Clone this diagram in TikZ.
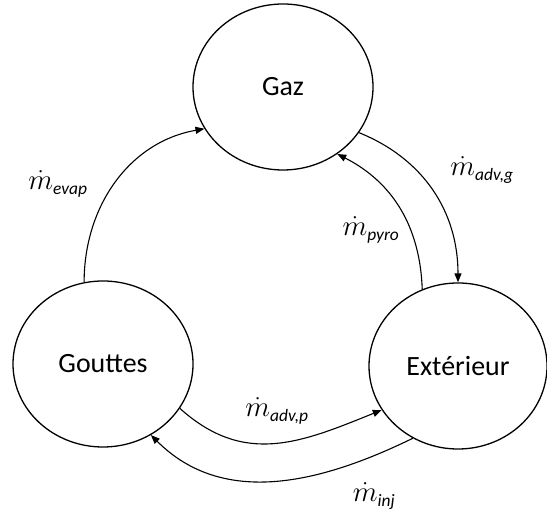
\RequirePackage{fix-cm}
\documentclass[tikz,border=0pt]{standalone}
\usepackage{amsmath}
\usepackage{fontspec}
\setmainfont{Carlito}
\usepackage{tikz}
\usetikzlibrary{positioning,arrows.meta,shapes.geometric}

% mass flow label
\newcommand{\debit}[1]{$\dot{m}_{\mbox{\fontsize{17.5}{20}\selectfont\itshape #1}}$}

\begin{document}
\begin{tikzpicture}[
  x=1bp, y=1bp,
  font=\fontsize{28}{33}\selectfont,
  >={Triangle[length=9bp,width=7bp]},
  zone/.style={draw, ellipse, line width=1.3bp, minimum width=180bp,
               minimum height=166bp, inner sep=0pt},
  flux/.style={line width=1.1bp, ->},
  lbl/.style={inner sep=1pt, font=\fontsize{29}{33}\selectfont},
]
  \useasboundingbox (0,0) rectangle (547,514);
  % Reservoirs
  \node[zone] (gaz) at (283,427) {Gaz};
  \node[zone] (gout) at (103,150) {Gouttes};
  \node[zone, minimum width=178bp] (ext) at (458,148) {Extérieur};
  % Mass transfers
  \draw[flux] (gout.103) to[out=90, in=190] (gaz.208);
  \draw[flux] (gaz.329) to[out=-22, in=90] (ext.90);
  \draw[flux] (ext.115) to[out=92, in=333] (gaz.309);
  \draw[flux] (gout.330) to[out=-42, in=202, looseness=1.1] (ext.210);
  \draw[flux] (ext.238) to[out=206, in=315] (gout.304);
  % Labels
  \node[lbl] (evap) at (58,330) {\debit{evap}};
  \node[lbl] (advg) at (482,344) {\debit{adv,g}};
  \node[lbl] (pyro) at (371,284) {\debit{pyro}};
  \node[lbl] (advp) at (277,103) {\debit{adv,p}};
  \node[lbl] (inj) at (374,18) {\debit{inj}};
\end{tikzpicture}
\end{document}
